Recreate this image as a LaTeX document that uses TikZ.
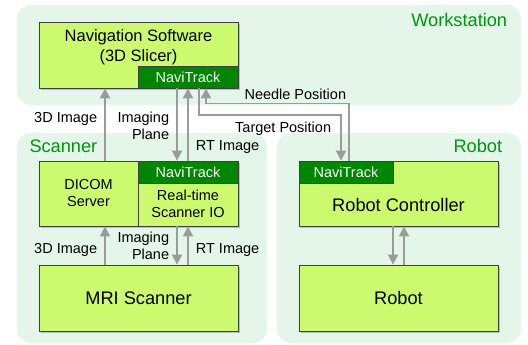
\documentclass[tikz,border=0pt]{standalone}
\usepackage{fontspec}
\setmainfont{Liberation Sans}
\usepackage{tikz}
\usetikzlibrary{positioning, shadows, arrows.meta}
\definecolor{groupbg}{RGB}{228,245,234}
\definecolor{boxgreen}{RGB}{204,250,110}
\definecolor{navigreen}{RGB}{0,134,0}
\definecolor{titlegreen}{RGB}{0,150,10}
\definecolor{arrowgray}{RGB}{155,155,155}
\tikzset{
    group/.style = {
        fill = groupbg, 
        rounded corners = 14pt, 
        inner sep = 0pt
    },
    grouptitle/.style = {text = titlegreen, inner sep = 0pt, font = \fontsize{18.2}{20}\selectfont},
    block/.style = {
        draw = black!75, fill = boxgreen,
        line width = 0.8pt, inner sep = 0pt,
        align = center,
        drop shadow = {shadow xshift = 2pt, shadow yshift = -2pt, opacity = 0.45}
    },
    navi/.style = {
        draw = black!75, fill = navigreen, text = white,
        line width = 0.8pt, inner sep = 0pt,
        minimum height = 22pt,
        font = \fontsize{14.5}{17}\selectfont
    },
    midtext/.style = {font = \fontsize{16.5}{20.3}\selectfont},
    bigtext/.style = {font = \fontsize{18.2}{21}\selectfont},
    smalltext/.style = {font = \fontsize{14.5}{17}\selectfont},
    lbl/.style = {smalltext, inner sep = 0pt, align = right},
    line/.style = {draw = arrowgray, line width = 1.8pt, -{Triangle[width=10pt, length=10pt]}}
}
\begin{document}
\begin{tikzpicture}[x=1pt, y=-1pt]

    \useasboundingbox (0,0) rectangle (528,345);

    % Groups
    \node[group, minimum width = 504pt, minimum height = 100pt] (ws) at (269,55) {};
    \node[group, minimum width = 250pt, minimum height = 210pt] (scan) at (142,238) {};
    \node[group, minimum width = 244pt, minimum height = 210pt] (rob) at (399,238) {};
    \node[grouptitle, anchor = east] (wstitle) at (507.3,20.3) {Workstation};
    \node[grouptitle, anchor = west] (scantitle) at (29.3,146.7) {Scanner};
    \node[grouptitle, anchor = east] (robtitle) at (502.3,146.4) {Robot};

    % Navigation software
    \node[block, minimum width = 199pt, minimum height = 66pt] (nav) at (138.5,55) {};
    \node[midtext, align = center] (navtext) at (138.5,47.5) {Navigation Software\\(3D Slicer)};
    \node[navi, minimum width = 100pt, anchor = south east] (navtrack) at (nav.south east) {NaviTrack};

    % Scanner
    \node[block, smalltext, minimum width = 99pt, minimum height = 65pt] (dicom) at (88.5,193.5) {DICOM\\Server};
    \node[block, minimum width = 100pt, minimum height = 65pt] (rtio) at (188,193.5) {};
    \node[navi, minimum width = 100pt, anchor = north] (scantrack) at (rtio.north) {NaviTrack};
    \node[smalltext, align = center] (rtiotext) at (188,204) {Real-time\\Scanner IO};
    \node[block, bigtext, minimum width = 199pt, minimum height = 66pt] (mri) at (138.5,298) {MRI Scanner};

    % Robot
    \node[block, minimum width = 199pt, minimum height = 65pt] (ctrl) at (398.5,193.5) {};
    \node[navi, minimum width = 94pt, anchor = north west] (robtrack) at (ctrl.north west) {NaviTrack};
    \node[bigtext] (ctrltext) at (398.5,204.7) {Robot Controller};
    \node[block, bigtext, minimum width = 199pt, minimum height = 66pt] (robot) at (398.5,298) {Robot};

    % Lines
    \draw[line] ([xshift=16.5pt]dicom.north) -- ([xshift=-33.5pt]nav.south)
        node[lbl, left = 7pt, pos = 0.575] {3D Image};
    \draw[line] ([xshift=-11pt]navtrack.south) -- ([xshift=-11pt]scantrack.north)
        node[lbl, left = 7pt, pos = 0.52] {Imaging\\Plane};
    \draw[line] (scantrack.north) -- (navtrack.south)
        node[lbl, right = 7pt, pos = 0.185] {RT Image};
    \draw[line] ([xshift=3pt]robtrack.north) -- ++(0,-57)
        node[lbl, anchor = south east, xshift = -2pt, yshift = 3pt] {Needle Position}
        -| ([xshift=18pt]navtrack.south);
    \draw[line] ([xshift=11pt]navtrack.south) -- ++(0,27)
        -| node[lbl, pos = 0.5, anchor = north east, xshift = -9pt, yshift = -6pt] {Target Position}
        ([xshift=-5pt]robtrack.north);

    \draw[line] ([xshift=-33.5pt]mri.north) -- ([xshift=16.5pt]dicom.south)
        node[lbl, left = 7pt, pos = 0.385] {3D Image};
    \draw[line] ([xshift=-11pt]rtio.south) -- ([xshift=38.5pt]mri.north)
        node[lbl, left = 7pt, pos = 0.51] {Imaging\\Plane};
    \draw[line] ([xshift=49.5pt]mri.north) -- (rtio.south)
        node[lbl, right = 7pt, pos = 0.385] {RT Image};

    \draw[line] ([xshift=-5.5pt]ctrl.south) -- ([xshift=-5.5pt]robot.north);
    \draw[line] ([xshift=5.5pt]robot.north) -- ([xshift=5.5pt]ctrl.south);

\end{tikzpicture}
\end{document}
